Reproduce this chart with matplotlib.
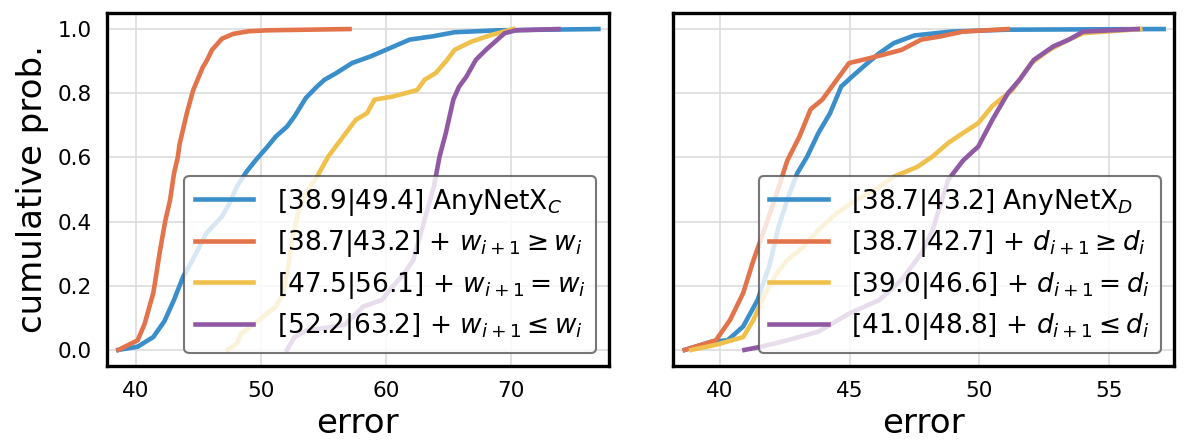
import numpy as np
import matplotlib
matplotlib.use("Agg")
import matplotlib.pyplot as plt

# couleurs des courbes
colors = ["#3a8fcb", "#e2734a", "#f0c04d", "#9159a4"]

# panneau gauche : largeur (w) -- points (erreur, prob. cumulée)
w_base_x = [38.6, 40.15, 41.4, 42.3, 43.06, 43.8, 44.4, 45.66, 46.9, 47.5, 48.1, 48.87, 49.63, 50.55,
            51.2, 52.1, 52.7, 53.6, 54.5, 55.1, 56.05, 57.3, 58.8, 60.0, 61.9, 63.7, 65.5, 68.9, 77.0]
w_base_p = [0.0, 0.01, 0.04, 0.09, 0.156, 0.229, 0.27, 0.364, 0.416, 0.457, 0.51, 0.556, 0.593, 0.634,
            0.665, 0.696, 0.728, 0.785, 0.821, 0.842, 0.863, 0.894, 0.915, 0.935, 0.967, 0.977, 0.99, 0.996, 1.0]

w_inc_x = [38.62, 40.15, 40.7, 41.4, 41.5, 41.9, 42.35, 42.75, 43.06, 43.36, 43.5, 44.1, 44.6, 45.35,
           45.66, 46.1, 46.9, 47.8, 49.0, 50.5, 57.1]
w_inc_p = [0.0, 0.03, 0.08, 0.177, 0.2, 0.3, 0.4, 0.468, 0.55, 0.6, 0.64, 0.74, 0.81, 0.88,
           0.9, 0.935, 0.97, 0.985, 0.993, 0.996, 1.0]

w_eq_x = [47.34, 48.1, 48.4, 49.9, 51.2, 51.8, 52.2, 52.5, 53.0, 53.6, 54.5, 55.4, 56.4, 57.6, 58.5,
          59.1, 60.6, 62.5, 63.1, 64.0, 64.9, 65.5, 66.8, 68.3, 70.2]
w_eq_p = [0.0, 0.02, 0.05, 0.094, 0.135, 0.177, 0.26, 0.343, 0.426, 0.489, 0.54, 0.603, 0.655, 0.717, 0.738,
          0.78, 0.79, 0.81, 0.842, 0.863, 0.904, 0.935, 0.96, 0.98, 1.0]

w_dec_x = [52.1, 52.7, 53.6, 55.4, 56.7, 58.2, 59.7, 60.6, 61.5, 62.2, 62.8, 63.4, 63.85, 64.3, 64.8,
           65.4, 65.85, 66.45, 67.2, 68.0, 68.9, 69.5, 70.4, 73.8]
w_dec_p = [0.0, 0.04, 0.06, 0.07, 0.078, 0.135, 0.156, 0.2, 0.24, 0.28, 0.364, 0.447, 0.51, 0.603, 0.676,
           0.78, 0.82, 0.852, 0.904, 0.935, 0.966, 0.987, 0.996, 1.0]

# panneau droit : profondeur (d)
d_base_x = [38.65, 39.7, 40.3, 40.9, 41.46, 41.9, 42.27, 42.6, 42.98, 43.37, 43.8, 44.25, 44.68, 45.1,
            45.55, 46.15, 46.7, 47.5, 48.9, 51.1, 57.1]
d_base_p = [0.0, 0.026, 0.03, 0.073, 0.156, 0.26, 0.385, 0.468, 0.55, 0.603, 0.676, 0.738, 0.821, 0.852,
            0.884, 0.925, 0.956, 0.98, 0.992, 0.998, 1.0]

d_inc_x = [38.65, 39.85, 40.4, 40.9, 41.3, 41.76, 42.2, 42.6, 43.07, 43.5, 43.95, 44.4, 44.98, 45.56,
           46.3, 47.0, 47.76, 48.5, 49.37, 51.1]
d_inc_p = [0.0, 0.03, 0.094, 0.177, 0.28, 0.385, 0.489, 0.59, 0.665, 0.75, 0.78, 0.83, 0.894, 0.905,
           0.92, 0.935, 0.967, 0.977, 0.992, 1.0]

d_eq_x = [38.9, 39.85, 40.9, 41.3, 41.76, 42.2, 42.6, 43.2, 43.8, 44.5, 45.27, 46.0, 46.7, 47.6, 48.2,
          48.8, 49.37, 49.96, 50.5, 51.27, 52.0, 52.7, 53.45, 54.0, 56.2]
d_eq_p = [0.0, 0.016, 0.04, 0.094, 0.177, 0.24, 0.28, 0.32, 0.374, 0.426, 0.468, 0.5, 0.54, 0.57, 0.603,
          0.645, 0.676, 0.707, 0.76, 0.81, 0.894, 0.935, 0.967, 0.987, 1.0]

d_dec_x = [40.95, 41.6, 42.6, 43.8, 45.0, 46.15, 47.0, 47.76, 48.2, 48.8, 49.37, 49.96, 50.5, 51.1,
           51.55, 52.1, 52.85, 53.45, 54.0, 56.1]
d_dec_p = [0.0, 0.01, 0.03, 0.057, 0.114, 0.156, 0.218, 0.3, 0.374, 0.53, 0.59, 0.634, 0.717, 0.8,
           0.842, 0.904, 0.946, 0.967, 0.992, 1.0]

w_labels = [r"[38.9|49.4] AnyNetX$_C$",
            r"[38.7|43.2] + $w_{i+1} \geq w_i$",
            r"[47.5|56.1] + $w_{i+1} = w_i$",
            r"[52.2|63.2] + $w_{i+1} \leq w_i$"]
d_labels = [r"[38.7|43.2] AnyNetX$_D$",
            r"[38.7|42.7] + $d_{i+1} \geq d_i$",
            r"[39.0|46.6] + $d_{i+1} = d_i$",
            r"[41.0|48.8] + $d_{i+1} \leq d_i$"]

w_curves = [(w_base_x, w_base_p), (w_inc_x, w_inc_p), (w_eq_x, w_eq_p), (w_dec_x, w_dec_p)]
d_curves = [(d_base_x, d_base_p), (d_inc_x, d_inc_p), (d_eq_x, d_eq_p), (d_dec_x, d_dec_p)]

fig = plt.figure(figsize=(11.86, 4.42), dpi=100)
ax1 = fig.add_axes([0.0902, 0.172, 0.4233, 0.7986])
ax2 = fig.add_axes([0.5675, 0.172, 0.4224, 0.7986])

panels = [(ax1, w_curves, w_labels, (37.7, 77.85), [40, 50, 60, 70]),
          (ax2, d_curves, d_labels, (38.2, 57.5), [40, 45, 50, 55])]

for ax, curves, labels, xlim, xticks in panels:
    for (x, p), lab, c in zip(curves, labels, colors):
        ax.plot(x, p, color=c, linewidth=3.3, label=lab)
    ax.set_xlim(*xlim)
    ax.set_ylim(-0.05, 1.05)
    ax.set_xticks(xticks)
    ax.set_yticks([0.0, 0.2, 0.4, 0.6, 0.8, 1.0])
    ax.grid(True, color="#dddddd", linewidth=1.2)
    ax.set_axisbelow(True)
    for s in ax.spines.values():
        s.set_linewidth(2.4)
        s.set_color("black")
    ax.tick_params(length=0, labelsize=15.5, pad=11)
    ax.set_xlabel("error", fontsize=24.5, labelpad=4)
    leg = ax.legend(loc="lower right", fontsize=19, handlelength=2.2,
                    framealpha=0.8, edgecolor="#555555", fancybox=True,
                    borderaxespad=0.5, labelspacing=0.4, handletextpad=0.9,
                    borderpad=0.4)
    leg.get_frame().set_linewidth(1.5)

ax1.set_ylabel("cumulative prob.", fontsize=24.5, labelpad=6)
ax2.set_yticklabels([])

fig.savefig("out.png", dpi=100)
